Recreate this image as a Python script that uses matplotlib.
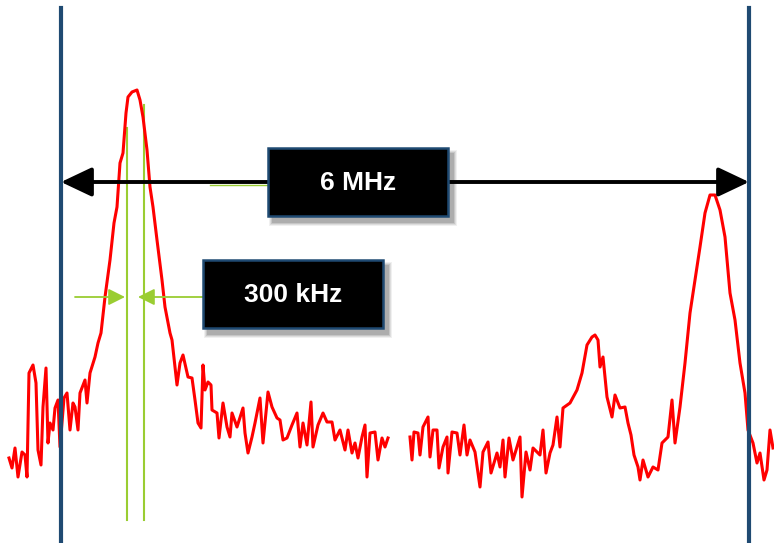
import numpy as np
import matplotlib.pyplot as plt
from matplotlib.patches import Rectangle

# Traza del espectro (coordenadas, en pixeles)
traza_x = [9, 12, 15, 18, 22, 25, 27, 29, 33, 36, 38, 41, 43, 46, 48, 50, 53, 55, 58, 60, 64, 67, 70,
           73, 75, 78, 80, 85, 87, 90, 95, 98, 101, 105, 110, 114, 117, 120, 123, 126, 128, 132, 137,
           140, 143, 147, 150, 153, 157, 162, 165, 170, 172, 177, 180, 183, 188, 192, 195, 198, 201,
           203, 205, 208, 211, 212, 217, 219, 223, 227, 230, 232, 237, 243, 245, 248, 252, 255, 260,
           263, 268, 272, 277, 280, 283, 287, 292, 297, 300, 303, 307, 311, 313, 318, 323, 327, 332,
           335, 340, 345, 348, 352, 355, 358, 362, 365, 367, 370, 375, 378, 382, 385, 388]
traza_y = [458, 468, 448, 477, 452, 455, 477, 373, 365, 383, 450, 465, 407, 368, 443, 423, 430, 408,
           400, 447, 398, 393, 430, 403, 407, 430, 393, 380, 403, 373, 357, 343, 333, 297, 260, 223,
           207, 163, 153, 113, 97, 92, 90, 100, 117, 150, 187, 207, 240, 280, 307, 333, 340, 385, 363,
           355, 377, 378, 400, 423, 428, 365, 390, 382, 385, 410, 413, 438, 403, 427, 437, 413, 427,
           408, 433, 453, 437, 423, 398, 443, 392, 407, 418, 420, 440, 438, 425, 413, 447, 423, 445,
           402, 447, 425, 413, 422, 422, 440, 430, 450, 430, 453, 443, 458, 437, 425, 477, 433, 432,
           460, 438, 447, 438]

traza2_x = [410, 412, 414, 418, 420, 423, 428, 430, 433, 437, 439, 443, 447, 448, 452, 457, 460, 464,
            467, 470, 475, 480, 483, 488, 491, 497, 500, 503, 505, 509, 513, 520, 522, 526, 530, 533,
            535, 540, 543, 546, 550, 553, 557, 560, 563, 570, 577, 582, 587, 592, 595, 598, 600, 603,
            607, 612, 615, 620, 625, 628, 631, 634, 638, 640, 643, 648, 653, 658, 662, 668, 672, 675,
            680, 685, 690, 695, 700, 705, 710, 715, 720, 725, 730, 735, 740, 745, 748, 753, 757, 760,
            764, 767, 770, 773]
traza2_y = [437, 460, 432, 433, 455, 427, 417, 457, 430, 430, 468, 447, 437, 473, 432, 433, 455, 425,
            455, 440, 452, 487, 452, 442, 473, 453, 467, 440, 477, 438, 460, 437, 497, 452, 470, 448,
            450, 455, 430, 473, 453, 445, 417, 447, 408, 403, 390, 373, 345, 337, 335, 340, 367, 357,
            397, 417, 395, 408, 407, 423, 435, 455, 467, 480, 460, 477, 467, 470, 443, 437, 400, 443,
            407, 363, 313, 280, 247, 213, 195, 195, 210, 237, 293, 320, 363, 393, 430, 443, 463, 453,
            480, 470, 430, 448]

marcadores_x = [61, 749]
ancho_x = [127, 144]
etiquetas = ['6 MHz', '300 kHz']

fig = plt.figure(figsize=(7.74, 5.43), dpi=100)
ax = fig.add_axes([0, 0, 1, 1])
ax.set_xlim(0, 774)
ax.set_ylim(543, 0)
ax.axis('off')

verde = '#9acd32'
azul = '#1f4a72'

# lineas verdes del ancho de banda
ax.plot([ancho_x[0], ancho_x[0]], [128, 520], color=verde, lw=1.5, zorder=2)
ax.plot([ancho_x[1], ancho_x[1]], [105, 520], color=verde, lw=1.5, zorder=2)

# traza roja
ax.plot(traza_x, traza_y, color='red', lw=2.2, solid_joinstyle='round', zorder=3)
ax.plot(traza2_x, traza2_y, color='red', lw=2.2, solid_joinstyle='round', zorder=3)

# marcadores azules de canal
for xm in marcadores_x:
    ax.plot([xm, xm], [8, 543], color=azul, lw=3, zorder=4)

# flecha negra de 6 MHz
ax.plot([210, 270], [185, 185], color=verde, lw=1, zorder=4)
ax.annotate('', xy=(marcadores_x[0], 182), xytext=(marcadores_x[1], 182),
            arrowprops=dict(arrowstyle='<|-|>,head_length=1.9,head_width=0.9',
                            mutation_scale=10, color='black', lw=2.8, shrinkA=0, shrinkB=0),
            zorder=5)

# flechas verdes de 300 kHz
ax.annotate('', xy=(ancho_x[0] - 2, 297), xytext=(75, 297),
            arrowprops=dict(arrowstyle='-|>,head_length=1.0,head_width=0.5',
                            mutation_scale=10, color=verde, lw=1.3, shrinkA=0, shrinkB=0), zorder=5)
ax.annotate('', xy=(ancho_x[1] - 6, 297), xytext=(210, 297),
            arrowprops=dict(arrowstyle='-|>,head_length=1.0,head_width=0.5',
                            mutation_scale=10, color=verde, lw=1.3, shrinkA=0, shrinkB=0), zorder=5)


def caja(x0, y0, w, h, texto):
    # sombra
    for i, a in enumerate([0.06, 0.08, 0.10, 0.12]):
        d = 6 - i
        ax.add_patch(Rectangle((x0 + 7 - d, y0 + 8 - d), w + 2 * d - 4, h + 2 * d - 4,
                               facecolor='black', edgecolor='none', alpha=a, zorder=6))
    ax.add_patch(Rectangle((x0, y0), w, h, facecolor='black', edgecolor=azul,
                           lw=1.8, zorder=7))
    ax.text(x0 + w / 2, y0 + h / 2 + 1, texto, color='white', fontsize=19,
            fontweight='bold', ha='center', va='center', family='Liberation Sans', zorder=8)


caja(268, 148, 180, 68, etiquetas[0])
caja(203, 260, 180, 68, etiquetas[1])

fig.savefig('out.png', dpi=100)
